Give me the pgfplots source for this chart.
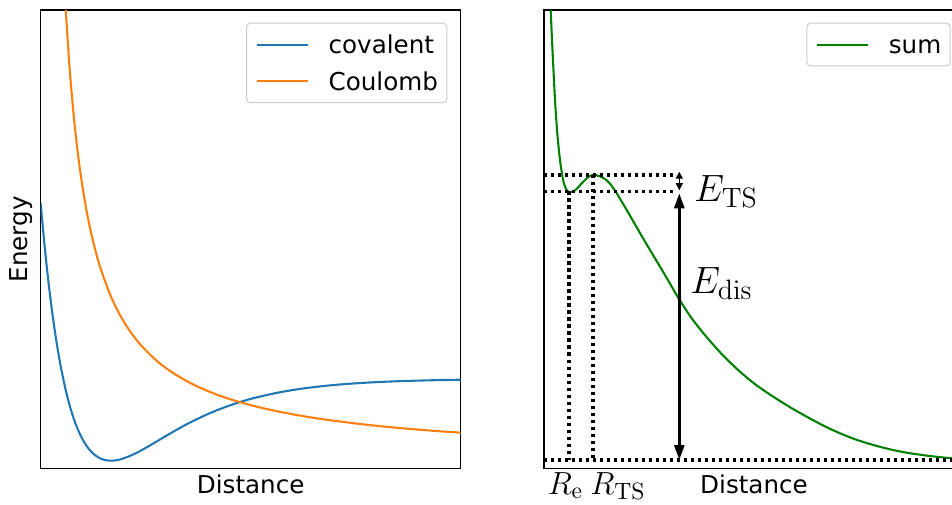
\RequirePackage{fix-cm}
\documentclass[border=0pt]{standalone}
\usepackage[no-math]{fontspec}
\setmainfont{DejaVu Sans}
\usepackage{pgfplots}
\pgfplotsset{compat=1.18}
\usetikzlibrary{arrows.meta}

\DeclareMathSizes{19}{19}{14}{10}
\DeclareMathSizes{16}{16}{11.8}{9}

\definecolor{c0}{HTML}{1F77B4}
\definecolor{c1}{HTML}{FF7F0E}
\definecolor{c2}{HTML}{008000}

\newcommand{\labelfont}{\fontsize{12.3}{14.8}\selectfont}

\pgfplotsset{
  panel/.style={
    scale only axis,
    width=210pt, height=229.35pt,
    xmin=0, xmax=420, ymin=0, ymax=458.7,
    xtick=\empty, ytick=\empty,
    axis line style={line width=0.56pt},
    clip mode=individual,
    every axis plot/.append style={line width=1.04pt},
    every axis x label/.style={at={(axis description cs:0.5,0)}, anchor=base,
      yshift=-12.15pt, inner sep=0pt, font=\labelfont},
    legend cell align=left,
    legend image code/.code={\draw[##1, line width=1.04pt] (0pt,0pt) -- (25.5pt,0pt);},
    legend style={
      at={(axis description cs:1,1)}, anchor=north east,
      xshift=-6.65pt, yshift=-6.35pt,
      draw=black!20, line width=0.5pt, rounded corners=2pt,
      fill=white, inner xsep=4.5pt, inner ysep=6pt,
      row sep=8.95pt, column sep=10pt,
      font=\labelfont,
      nodes={inner sep=0pt, text height=9.4pt, text depth=0pt},
    },
  },
  dotline/.style={black, line width=1.7pt, dash pattern=on 1.7pt off 1.8pt, forget plot},
}

\begin{document}
\begin{tikzpicture}
\useasboundingbox (0,0) rectangle (476pt,252pt);
\clip (0,0) rectangle (476pt,252pt);

% left panel: the two contributions
\begin{axis}[panel, at={(20.35pt,17.65pt)}, anchor=south west,
    xlabel={Distance}, ylabel={Energy},
    every axis y label/.style={at={(axis description cs:-0.01833,0.5)}, rotate=90,
      anchor=south, inner sep=0pt, font=\labelfont}]
\addplot[c0, smooth] coordinates {
  (0,265.3) (2,242.8) (4,221.9) (6,202.6) (8,184.7) (10,168.1) (13,145.6)
  (16,125.6) (20,102.5) (25,78.7) (30,59.7) (35,44.6) (40,33.0) (45,24.1)
  (50,17.6) (55,13.1) (60,10.1) (65,8.5) (70,8.0) (75,8.4) (80,9.4)
  (90,13.1) (100,18.0) (110,23.7) (120,29.6) (135,38.4) (150,46.5)
  (170,55.9) (190,63.6) (210,69.8) (235,75.6) (260,79.9) (290,83.4)
  (320,85.7) (350,87.2) (385,88.3) (420,89.0)
};
\addlegendentry{covalent}
\addplot[c1, smooth] coordinates {
  (25.1,458.7) (26,443.7) (28,413.4) (30,387.0) (33,353.3) (36,325.1)
  (40,294.0) (45,262.7) (50,237.6) (55,217.1) (60,199.9) (70,172.8)
  (80,152.4) (90,136.5) (100,123.8) (115,108.8) (130,97.3) (150,85.5)
  (170,76.5) (190,69.3) (215,62.3) (240,56.7) (270,51.3) (300,47.1)
  (330,43.5) (360,40.6) (390,38.1) (420,36.0)
};
\addlegendentry{Coulomb}
\end{axis}

% right panel: the sum with its barrier
\begin{axis}[panel, at={(272pt,17.65pt)}, anchor=south west, xlabel={Distance}]
\addplot[c2, smooth] coordinates {
  (6.7,458.7) (7.7,435.4) (9.3,402) (11,368.7) (13.3,335.4) (16,308.7)
  (19.3,287.7) (22.7,278.5) (25,276.5) (28,276.9) (31,278.3) (35,282.3)
  (39.3,287) (45,292.2) (49.3,293.7) (52.5,293.4) (56,292.3) (59.3,290.7)
  (62.7,288.4) (66,285.0) (69.3,280.6) (72.7,275.4) (76,270.0) (81,261.6)
  (86,253.0) (92.5,241.8) (99.3,230.0) (109.3,213.2) (119.3,196.5)
  (127.3,182.8) (135.3,169.2) (148,150) (162.7,131.5) (179,113.3) (196,97)
  (212,83.8) (229.3,72) (246,61.5) (262.7,52) (279,43.3) (296,35.4)
  (312,29.1) (329.3,23.7) (346,19.4) (362.7,16) (385,12.8) (408,10.4)
  (420,9.6)
};
\addlegendentry{sum}
\addplot[dotline] coordinates {(0,293.7) (132,293.7)};
\addplot[dotline] coordinates {(0,277.2) (132,277.2)};
\addplot[dotline] coordinates {(0,8.7) (420,8.7)};
\addplot[dotline] coordinates {(25,277.2) (25,8.7)};
\addplot[dotline] coordinates {(49,293.7) (49,8.7)};
\draw[line width=1.39pt, {Triangle[length=7.5pt,width=5pt]}-{Triangle[length=7.5pt,width=5pt]}]
  (axis cs:135.3,275.4) -- (axis cs:135.3,8.7);
\draw[line width=0.7pt, {Triangle[length=3.5pt,width=3.5pt]}-{Triangle[length=3.5pt,width=3.5pt]}]
  (axis cs:135.3,297) -- (axis cs:135.3,278.5);
\node[anchor=base west, inner sep=0pt, font=\fontsize{19}{22}\selectfont]
  at (axis cs:150,267) {$E_{\mathrm{TS}}$};
\node[anchor=base west, inner sep=0pt, font=\fontsize{19}{22}\selectfont]
  at (axis cs:146,175.4) {$E_{\mathrm{dis}}$};
\node[anchor=base, inner sep=0pt, yshift=-12.65pt, font=\fontsize{16}{19}\selectfont]
  at (axis cs:21.5,0) {$R_{\mathrm{e}}$};
\node[anchor=base west, inner sep=0pt, yshift=-12.65pt, font=\fontsize{16}{19}\selectfont]
  at (axis cs:46,0) {$R_{\mathrm{TS}}$};
\end{axis}
\end{tikzpicture}
\end{document}
